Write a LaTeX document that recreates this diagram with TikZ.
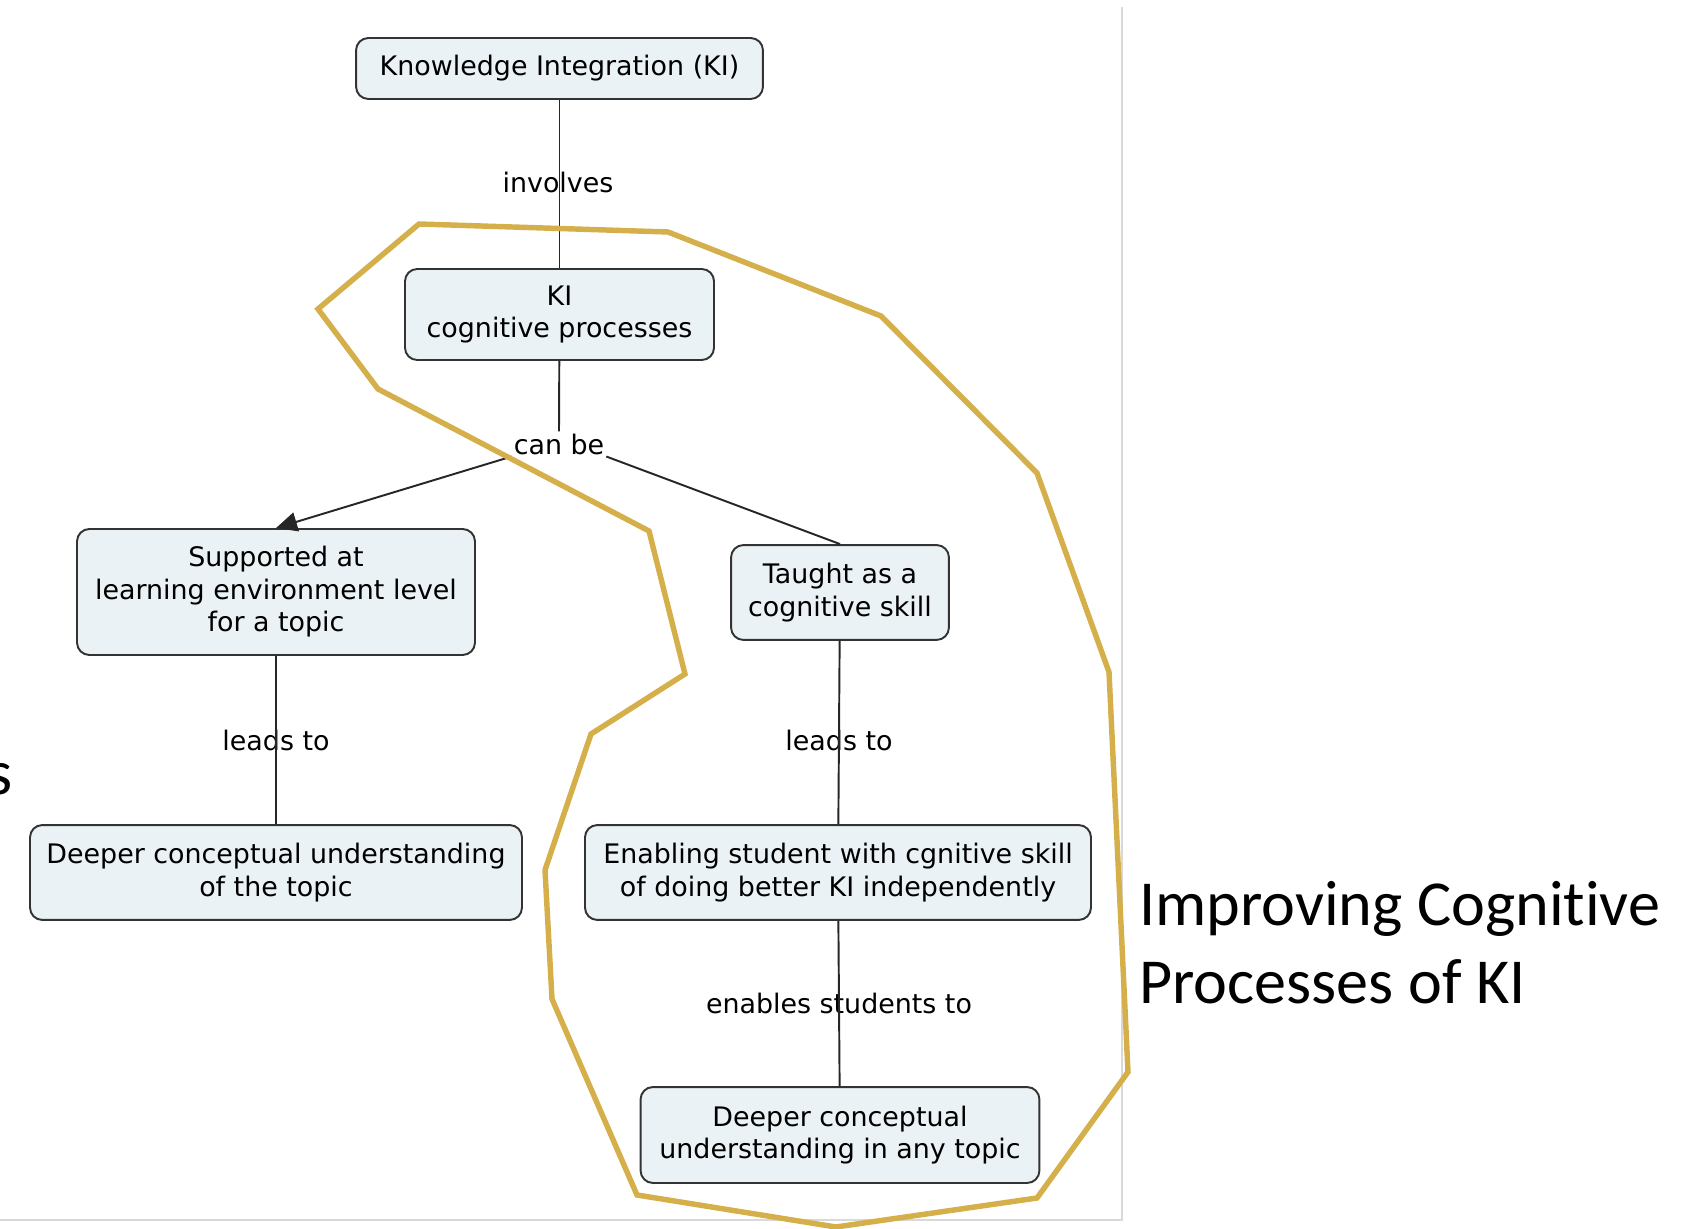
\documentclass[tikz,border=0pt]{standalone}
\usepackage{fontspec}
\setmainfont{DejaVu Sans}
\newfontfamily\calib[Ligatures=NoCommon]{Carlito}
\usetikzlibrary{arrows.meta}

\definecolor{boxfill}{HTML}{EBF2F5}
\definecolor{boxline}{HTML}{333333}
\definecolor{hull}{HTML}{D4AF4A}
\definecolor{framegray}{HTML}{D9D9D9}

\begin{document}
\begin{tikzpicture}[
		x=0.02cm, y=-0.02cm,
		concept/.style={rectangle, rounded corners=7pt, draw=boxline, fill=boxfill,
			line width=1.1pt, align=center, inner sep=0pt,
			font=\fontsize{15.3}{18.5}\selectfont},
		linkword/.style={inner sep=1pt, font=\fontsize{15.3}{18.5}\selectfont},
		link/.style={line width=1.1pt, draw=black!85},
		big/.style={inner sep=0pt, font=\calib\fontsize{36.5}{43.5}\selectfont}]

		\useasboundingbox (0,0) rectangle (1685,1229);

		\draw[framegray, line width=1.2pt] (1122,7) -- (1122,1220) -- (0,1220);

		\node[concept, minimum width=231.6pt, minimum height=34.7pt] (kitop) at (559.5,68.5) {Knowledge Integration (KI)};
		\node[concept, minimum width=175.9pt, minimum height=51.8pt] (kiproc) at (559.5,314.5) {KI\\cognitive processes};
		\node[concept, minimum width=226.5pt, minimum height=71.7pt] (support) at (276,592) {Supported at\\learning environment level\\for a topic};
		\node[concept, minimum width=124pt, minimum height=54pt] (taught) at (840,592.5) {Taught as a\\cognitive skill};
		\node[concept, minimum width=280pt, minimum height=54pt] (deepl) at (276,872.5) {Deeper conceptual understanding\\of the topic};
		\node[concept, minimum width=288pt, minimum height=54pt] (enable) at (838,872.5) {Enabling student with cgnitive skill\\of doing better KI independently};
		\node[concept, minimum width=227pt, minimum height=54.6pt] (deepb) at (840,1135) {Deeper conceptual\\understanding in any topic};

		\node[linkword] (involves) at (558,182) {involves};
		\node[linkword] (canbe) at (559,444) {can be};
		\node[linkword] (leadl) at (276,740) {leads to};
		\node[linkword] (leadr) at (839,740) {leads to};
		\node[linkword] (enables) at (839,1003) {enables students to};

		\draw[link] (kitop) -- (kiproc);
		\draw[link] (kiproc) -- (canbe.north);
		\draw[link, -{Triangle[length=12pt,width=11pt]}] (canbe.south west) -- (support.north);
		\draw[link] (canbe.south east) -- (taught.north);
		\draw[link] (support) -- (deepl);
		\draw[link] (taught) -- (enable);
		\draw[link] (enable) -- (deepb);

		% outline round the cognitive side
		\draw[hull, line width=3.1pt] (419,224) -- (668,232) -- (881,316) -- (1037,473)
			-- (1109,672) -- (1128,1072) -- (1037,1198) -- (836,1227) -- (637,1195)
			-- (552,999) -- (545,870) -- (591,734) -- (685,674) -- (649,531)
			-- (378,389) -- (318,309) -- cycle;

		\node[big, anchor=base west] (impr1) at (1139,926) {Improving Cognitive};
		\node[big, anchor=base west] (impr2) at (1139,1003) {Processes of KI};
		\node[big, anchor=base east] (cut) at (13,795) {s};

\end{tikzpicture}
\end{document}
